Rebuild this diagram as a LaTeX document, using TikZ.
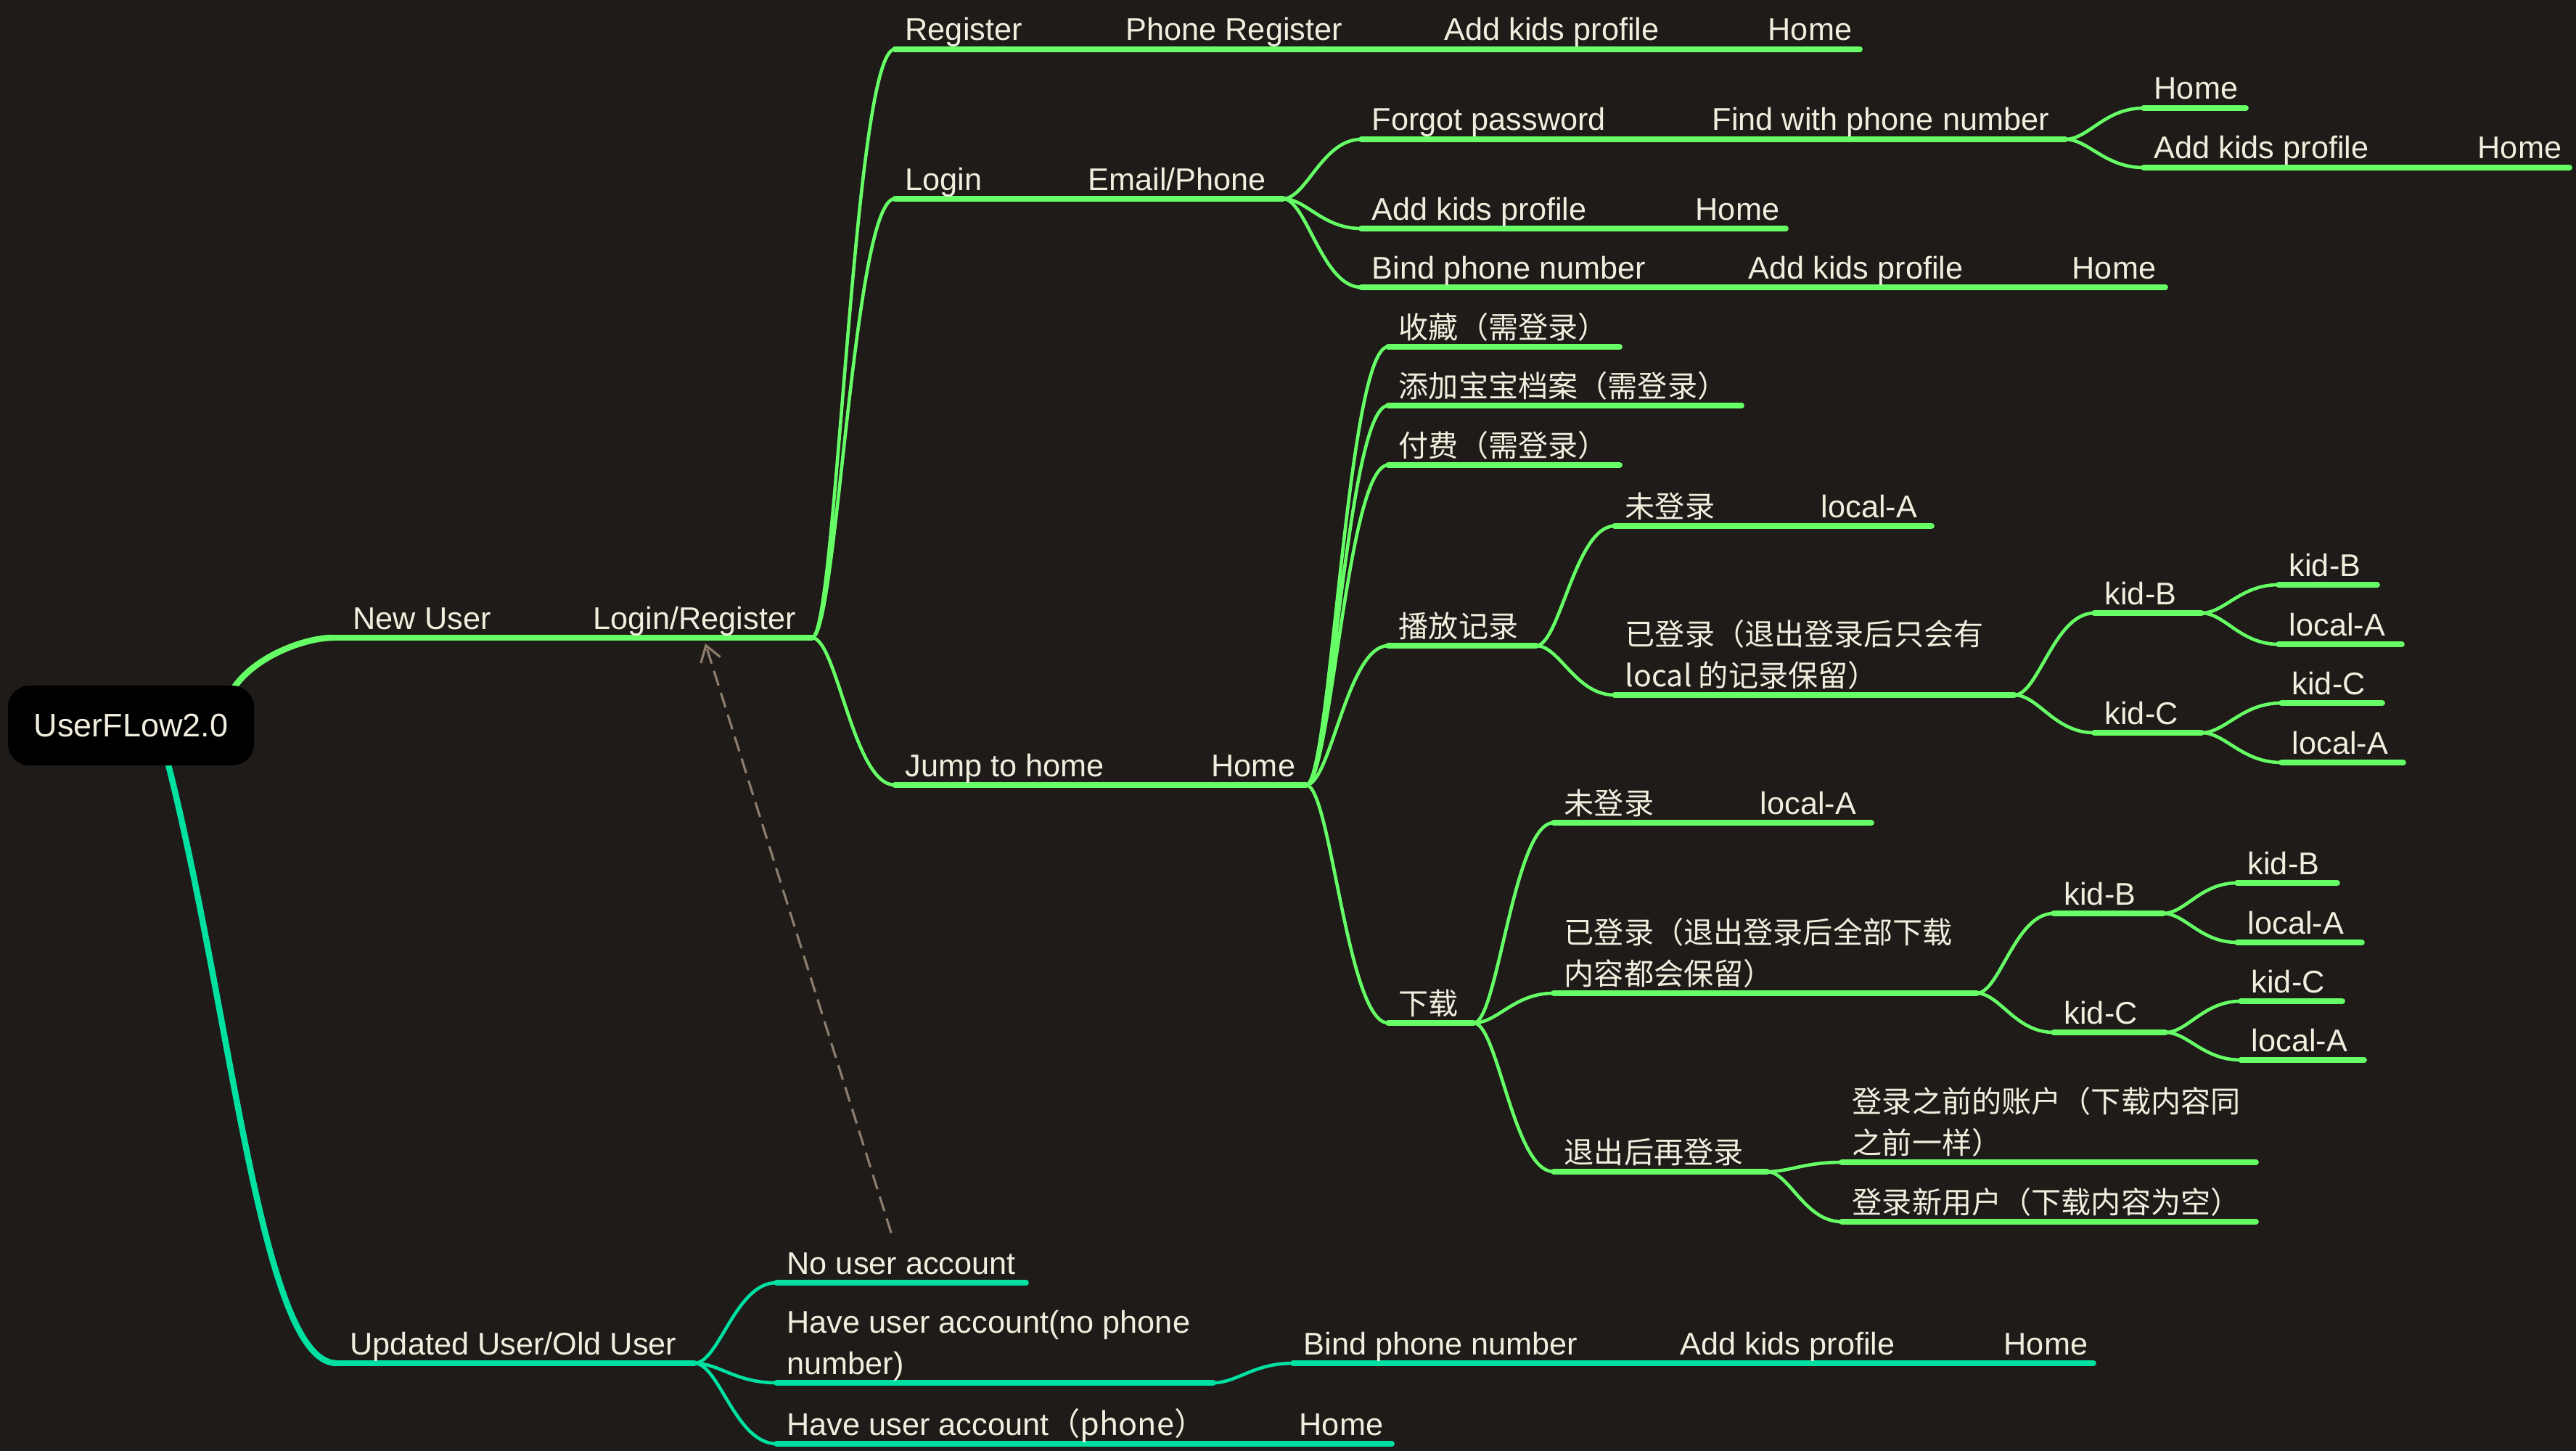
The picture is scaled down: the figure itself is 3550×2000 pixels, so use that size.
\documentclass[tikz,border=0pt]{standalone}
\usepackage{fontspec}
\setmainfont{Liberation Sans}
\newfontfamily\cjk{Noto Sans CJK SC}
\usetikzlibrary{arrows.meta,calc}
\definecolor{bg}{RGB}{31,27,24}
\definecolor{nu}{RGB}{102,255,102}
\definecolor{ou}{RGB}{0,224,160}
\definecolor{txt}{RGB}{242,238,222}
\definecolor{dashc}{RGB}{140,125,108}
\begin{document}
\begin{tikzpicture}[
    x=0.01cm, y=-0.01cm,
    topic/.style    = {anchor=base west, inner sep=0pt, yshift=-0.04cm, text=txt, font=\fontsize{12.3}{16.2}\selectfont},
    ctopic/.style   = {topic, font=\cjk\fontsize{11.7}{16.2}\selectfont},
    uline/.style    = {line width=2.2pt, line cap=round},
    branch/.style   = {line width=1.3pt, to path={let \p1=(\tikztostart), \p2=(\tikztotarget) in
                       .. controls ({0.7*\x1+0.3*\x2},\y1) and ({0.5*\x1+0.5*\x2},\y2) .. (\tikztotarget)}},
    rootline/.style = {line width=2.4pt},
    dashlink/.style = {draw=dashc, line width=0.9pt, dash pattern=on 6pt off 3pt, -{Straight Barb[length=6pt,width=8pt]}},
  ]
	\fill[bg] (0,0) rectangle (3550,2000);
	\useasboundingbox (0,0) rectangle (3550,2000);

	% Wurzel
	\coordinate (root-ne) at (321,950);
	\coordinate (root-s) at (231,1050);

	% New User
	\coordinate (nu) at (459,879);     \coordinate (nu-e) at (1119,879);
	\coordinate (reg) at (1233,68);    \coordinate (reg-e) at (2563,68);
	\coordinate (login) at (1233,274); \coordinate (login-e) at (1768,274);
	\coordinate (fp) at (1876,192);    \coordinate (fp-e) at (2846,192);
	\coordinate (fph) at (2954,149);   \coordinate (fph-e) at (3095,149);
	\coordinate (fpk) at (2954,231);   \coordinate (fpk-e) at (3541,231);
	\coordinate (lk) at (1876,315);    \coordinate (lk-e) at (2461,315);
	\coordinate (lb) at (1876,396);    \coordinate (lb-e) at (2984,396);
	\coordinate (jump) at (1233,1082); \coordinate (jump-e) at (1800,1082);
	\coordinate (fav) at (1913,478);   \coordinate (fav-e) at (2232,478);
	\coordinate (kid) at (1913,559);   \coordinate (kid-e) at (2400,559);
	\coordinate (pay) at (1913,641);   \coordinate (pay-e) at (2232,641);
	\coordinate (hist) at (1913,890);  \coordinate (hist-e) at (2117,890);
	\coordinate (hno) at (2225,725);   \coordinate (hno-e) at (2662,725);
	\coordinate (hyes) at (2225,958);  \coordinate (hyes-e) at (2776,958);
	\coordinate (hb) at (2886,845);    \coordinate (hb-e) at (3034,845);
	\coordinate (hbb) at (3140,806);   \coordinate (hbb-e) at (3276,806);
	\coordinate (hba) at (3140,888);   \coordinate (hba-e) at (3310,888);
	\coordinate (hc) at (2886,1010);   \coordinate (hc-e) at (3034,1010);
	\coordinate (hcc) at (3144,969);   \coordinate (hcc-e) at (3283,969);
	\coordinate (hca) at (3144,1051);  \coordinate (hca-e) at (3312,1051);
	\coordinate (dl) at (1913,1410);   \coordinate (dl-e) at (2031,1410);
	\coordinate (dno) at (2141,1134);  \coordinate (dno-e) at (2579,1134);
	\coordinate (dyes) at (2141,1369); \coordinate (dyes-e) at (2724,1369);
	\coordinate (db) at (2830,1259);   \coordinate (db-e) at (2981,1259);
	\coordinate (dbb) at (3083,1217);  \coordinate (dbb-e) at (3221,1217);
	\coordinate (dba) at (3083,1299);  \coordinate (dba-e) at (3255,1299);
	\coordinate (dc) at (2830,1423);   \coordinate (dc-e) at (2984,1423);
	\coordinate (dcc) at (3088,1380);  \coordinate (dcc-e) at (3228,1380);
	\coordinate (dca) at (3088,1461);  \coordinate (dca-e) at (3258,1461);
	\coordinate (relog) at (2141,1615);\coordinate (relog-e) at (2435,1615);
	\coordinate (rold) at (2538,1602); \coordinate (rold-e) at (3109,1602);
	\coordinate (rnew) at (2538,1684); \coordinate (rnew-e) at (3109,1684);

	% Updated User
	\coordinate (ou) at (464,1879);    \coordinate (ou-e) at (957,1879);
	\coordinate (na) at (1070,1768);   \coordinate (na-e) at (1414,1768);
	\coordinate (hn) at (1070,1906);   \coordinate (hn-e) at (1672,1906);
	\coordinate (hnb) at (1782,1879);  \coordinate (hnb-e) at (2885,1879);
	\coordinate (hp) at (1070,1990);   \coordinate (hp-e) at (1918,1990);

	% Verbindungen
	\draw[rootline, nu] (root-ne) .. controls (350,905) and (420,879) .. (nu);
	\draw[rootline, ou] (root-s) .. controls (320,1400) and (360,1879) .. (ou);
	\draw[branch, nu] (nu-e) to (reg) (nu-e) to (login) (nu-e) to (jump)
	                  (login-e) to (fp) (login-e) to (lk) (login-e) to (lb)
	                  (fp-e) to (fph) (fp-e) to (fpk)
	                  (jump-e) to (fav) (jump-e) to (kid) (jump-e) to (pay) (jump-e) to (hist) (jump-e) to (dl)
	                  (hist-e) to (hno) (hist-e) to (hyes)
	                  (hyes-e) to (hb) (hyes-e) to (hc)
	                  (hb-e) to (hbb) (hb-e) to (hba) (hc-e) to (hcc) (hc-e) to (hca)
	                  (dl-e) to (dno) (dl-e) to (dyes) (dl-e) to (relog)
	                  (dyes-e) to (db) (dyes-e) to (dc)
	                  (db-e) to (dbb) (db-e) to (dba) (dc-e) to (dcc) (dc-e) to (dca)
	                  (relog-e) to (rold) (relog-e) to (rnew);
	\draw[branch, ou] (ou-e) to (na) (ou-e) to (hn) (ou-e) to (hp) (hn-e) to (hnb);

	% Unterstriche
	\draw[uline, nu] (nu) -- (nu-e) (reg) -- (reg-e) (login) -- (login-e)
	                 (fp) -- (fp-e) (fph) -- (fph-e) (fpk) -- (fpk-e) (lk) -- (lk-e) (lb) -- (lb-e)
	                 (jump) -- (jump-e) (fav) -- (fav-e) (kid) -- (kid-e) (pay) -- (pay-e)
	                 (hist) -- (hist-e) (hno) -- (hno-e) (hyes) -- (hyes-e)
	                 (hb) -- (hb-e) (hbb) -- (hbb-e) (hba) -- (hba-e)
	                 (hc) -- (hc-e) (hcc) -- (hcc-e) (hca) -- (hca-e)
	                 (dl) -- (dl-e) (dno) -- (dno-e) (dyes) -- (dyes-e)
	                 (db) -- (db-e) (dbb) -- (dbb-e) (dba) -- (dba-e)
	                 (dc) -- (dc-e) (dcc) -- (dcc-e) (dca) -- (dca-e)
	                 (relog) -- (relog-e) (rold) -- (rold-e) (rnew) -- (rnew-e);
	\draw[uline, ou] (ou) -- (ou-e) (na) -- (na-e) (hn) -- (hn-e) (hnb) -- (hnb-e) (hp) -- (hp-e);

	% Texte
	\node[topic] (nu-l) at (486,863) {New User};
	\node[topic] (lr-l) at (817,863) {Login/Register};
	\node[topic] (reg-l) at (1247,52) {Register};
	\node[topic] (reg-l2) at (1551,52) {Phone Register};
	\node[topic] (reg-l3) at (1990,52) {Add kids profile};
	\node[topic] (reg-l4) at (2436,52) {Home};
	\node[topic] (login-l) at (1247,258) {Login};
	\node[topic] (login-l2) at (1499,258) {Email/Phone};
	\node[topic] (fp-l) at (1890,176) {Forgot password};
	\node[topic] (fp-l2) at (2359,176) {Find with phone number};
	\node[topic] (fph-l) at (2968,133) {Home};
	\node[topic] (fpk-l) at (2968,215) {Add kids profile};
	\node[topic] (fpk-l2) at (3414,215) {Home};
	\node[topic] (lk-l) at (1890,299) {Add kids profile};
	\node[topic] (lk-l2) at (2336,299) {Home};
	\node[topic] (lb-l) at (1890,380) {Bind phone number};
	\node[topic] (lb-l2) at (2409,380) {Add kids profile};
	\node[topic] (lb-l3) at (2855,380) {Home};
	\node[topic] (jump-l) at (1247,1066) {Jump to home};
	\node[topic] (jump-l2) at (1669,1066) {Home};
	\node[ctopic] (fav-l) at (1927,462) {收藏（需登录）};
	\node[ctopic] (kid-l) at (1927,543) {添加宝宝档案（需登录）};
	\node[ctopic] (pay-l) at (1927,625) {付费（需登录）};
	\node[ctopic] (hist-l) at (1927,874) {播放记录};
	\node[ctopic] (hno-l) at (2239,709) {未登录};
	\node[topic] (hno-l2) at (2509,709) {local-A};
	\node[ctopic] (hyes-l) at (2239,942) {\begin{tabular}[b]{@{}l@{}}已登录（退出登录后只会有\\local 的记录保留）\end{tabular}};
	\node[topic] (hb-l) at (2900,829) {kid-B};
	\node[topic] (hbb-l) at (3154,790) {kid-B};
	\node[topic] (hba-l) at (3154,872) {local-A};
	\node[topic] (hc-l) at (2900,994) {kid-C};
	\node[topic] (hcc-l) at (3158,953) {kid-C};
	\node[topic] (hca-l) at (3158,1035) {local-A};
	\node[ctopic] (dl-l) at (1927,1394) {下载};
	\node[ctopic] (dno-l) at (2155,1118) {未登录};
	\node[topic] (dno-l2) at (2425,1118) {local-A};
	\node[ctopic] (dyes-l) at (2155,1353) {\begin{tabular}[b]{@{}l@{}}已登录（退出登录后全部下载\\内容都会保留）\end{tabular}};
	\node[topic] (db-l) at (2844,1243) {kid-B};
	\node[topic] (dbb-l) at (3097,1201) {kid-B};
	\node[topic] (dba-l) at (3097,1283) {local-A};
	\node[topic] (dc-l) at (2844,1407) {kid-C};
	\node[topic] (dcc-l) at (3102,1364) {kid-C};
	\node[topic] (dca-l) at (3102,1445) {local-A};
	\node[ctopic] (relog-l) at (2155,1599) {退出后再登录};
	\node[ctopic] (rold-l) at (2552,1586) {\begin{tabular}[b]{@{}l@{}}登录之前的账户（下载内容同\\之前一样）\end{tabular}};
	\node[ctopic] (rnew-l) at (2552,1668) {登录新用户（下载内容为空）};
	\node[topic] (ou-l) at (482,1863) {Updated User/Old User};
	\node[topic] (na-l) at (1084,1752) {No user account};
	\node[topic] (hn-l) at (1084,1890) {\begin{tabular}[b]{@{}l@{}}Have user account(no phone\\number)\end{tabular}};
	\node[topic] (hnb-l) at (1796,1863) {Bind phone number};
	\node[topic] (hnb-l2) at (2315,1863) {Add kids profile};
	\node[topic] (hnb-l3) at (2761,1863) {Home};
	\node[topic] (hp-l) at (1084,1974) {Have user account{\cjk （phone）}};
	\node[topic] (hp-l2) at (1790,1974) {Home};

	% Wurzelknoten
	\node[fill=black, rounded corners=0.3cm, minimum width=3.39cm, minimum height=1.1cm,
	      text=txt, font=\fontsize{12.8}{15}\selectfont] (root) at (180.5,1000) {UserFLow2.0};

	% Rueckverweis
	\coordinate (lr-in) at (972,887);
	\draw[dashlink] (na-l.north) ++(-14,-26) -- (lr-in);
\end{tikzpicture}
\end{document}
